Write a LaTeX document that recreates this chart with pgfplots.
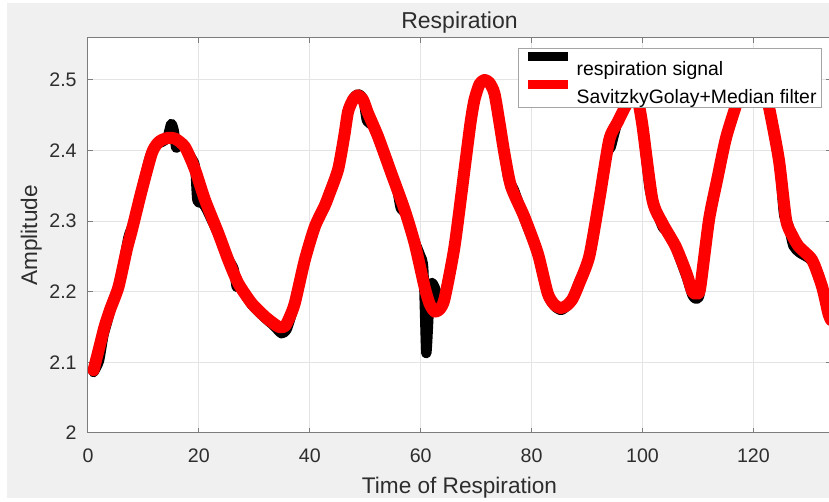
\documentclass[border=0pt]{standalone}
\usepackage{fontspec}
\setmainfont{Liberation Sans}
\usepackage{pgfplots}
\pgfplotsset{compat=1.18}
\definecolor{figbg}{RGB}{240,240,240}
\definecolor{axcol}{RGB}{125,125,125}
\definecolor{txtcol}{RGB}{45,45,45}
\definecolor{gridcol}{RGB}{228,228,228}
\definecolor{legcol}{RGB}{165,165,165}

\begin{document}
\begin{tikzpicture}
\useasboundingbox (0,0) rectangle (414.5pt,251pt);
\fill[white] (0,0) rectangle (414.5pt,251pt);
\fill[figbg] (3.5pt,2pt) rectangle (414.5pt,249.5pt);
\begin{axis}[
  at={(44pt,34.5pt)}, anchor=south west,
  scale only axis, width=371.5pt, height=197.7pt,
  axis background/.style={fill=white},
  xmin=0, xmax=134, ymin=2, ymax=2.56,
  xtick={0,20,...,120},
  ytick={2,2.1,2.2,2.3,2.4,2.5},
  yticklabels={2,2.1,2.2,2.3,2.4,2.5},
  grid=major,
  grid style={gridcol, line width=0.5pt},
  axis line style={axcol, line width=0.5pt},
  tick style={axcol, line width=0.5pt},
  major tick length=2.5pt,
  tick align=inside,
  /pgf/number format/assume math mode=true,
  ticklabel style={font=\fontsize{9.8}{10}\selectfont, text=txtcol, inner sep=0pt},
  xticklabel style={anchor=north, text height=14.5pt},
  yticklabel style={anchor=east, xshift=-5.5pt},
  every axis title shift=0pt,
  title={Respiration},
  title style={at={(axis description cs:0.5,1.0228)}, anchor=base, font=\fontsize{11.5}{12}\selectfont, text=txtcol, inner sep=0pt},
  xlabel={Time of Respiration},
  xlabel style={at={(axis description cs:0.5,-0.153)}, anchor=base, font=\fontsize{11.3}{12}\selectfont, text=txtcol, inner sep=0pt},
  ylabel={Amplitude},
  ylabel style={at={(axis description cs:-0.0686,0.5)}, anchor=base, font=\fontsize{11.3}{12}\selectfont, text=txtcol, inner sep=0pt},
  legend style={at={(axis description cs:0.9879,0.9747)}, anchor=north east,
    draw=legcol, fill=white, line width=0.5pt,
    inner xsep=2.5pt, inner ysep=2pt, row sep=2.5pt, column sep=2pt,
    nodes={inner sep=0pt, text height=8.5pt, text depth=0pt},
    font=\fontsize{9.7}{10}\selectfont, text=black},
  legend cell align=left,
  legend image code/.code={\draw[#1, line width=4.5pt, line cap=butt] (0pt,5pt) -- (20pt,5pt);},
]
\addplot[black, line width=5pt, line join=round, line cap=round, smooth, tension=0.4] coordinates {
(1,2.086)(2,2.102)(2.8,2.138)(3.5,2.158)(4.5,2.188)(5.5,2.207)(6.5,2.245)(7.3,2.278)
(8.2,2.298)(9.2,2.33)(10.4,2.368)(11.2,2.392)(12.3,2.408)(13.3,2.412)(14.3,2.418)
(15.0,2.438)(15.5,2.428)(15.9,2.404)(16.8,2.41)(17.6,2.404)(18.6,2.39)(19.3,2.378)
(19.7,2.33)(20.5,2.326)(21.3,2.318)(23.5,2.281)(25.3,2.247)(26.3,2.232)(26.8,2.207)
(27.6,2.206)(29.5,2.182)(31.9,2.163)(33.5,2.152)(34.9,2.141)(35.8,2.146)(36.5,2.162)
(37.3,2.184)(39.1,2.245)(40.9,2.292)(42.7,2.32)(43.5,2.34)(45.1,2.375)(46.2,2.42)
(46.9,2.455)(47.8,2.474)(48.7,2.48)(49.6,2.474)(50.3,2.442)(51.3,2.436)(52.3,2.418)
(54.7,2.368)(55.8,2.342)(56.4,2.318)(57.3,2.31)(58.9,2.272)(59.9,2.252)(60.5,2.232)
(61.0,2.113)(61.5,2.175)(61.9,2.212)(62.6,2.205)(63.4,2.183)(64.3,2.195)(66.1,2.264)
(67.9,2.373)(69.0,2.44)(69.7,2.472)(70.6,2.494)(71.5,2.5)(72.4,2.496)(73.3,2.481)
(74.2,2.44)(75.1,2.396)(75.8,2.36)(76.8,2.345)(78.7,2.303)(81.1,2.253)(82.9,2.196)
(84.1,2.18)(85.3,2.174)(86.4,2.18)(87.4,2.19)(88.5,2.213)(89.6,2.232)(90.4,2.25)
(92.2,2.33)(93.6,2.395)(94.3,2.405)(95.5,2.44)(97.1,2.465)(98.4,2.48)(99.2,2.47)
(100,2.435)(101.2,2.35)(101.8,2.33)(103.6,2.292)(104.6,2.285)(106,2.262)(107.9,2.222)
(109,2.195)(109.7,2.19)(110.4,2.2)(112,2.302)(113.5,2.36)(115.1,2.417)(116.2,2.445)
(117.4,2.476)(119,2.5)(120.3,2.51)(121.5,2.5)(122.8,2.462)(124.6,2.387)(125.5,2.31)
(126.3,2.295)(127.2,2.265)(128.4,2.255)(130.6,2.243)(132.4,2.205)(133.5,2.17)(134,2.16)
};
\addlegendentry{respiration signal}
\addplot[red, line width=6pt, line join=round, line cap=round, smooth, tension=0.4] coordinates {
(1,2.089)(2,2.12)(3,2.151)(4,2.175)(5.5,2.207)(7,2.26)(8,2.29)(9.7,2.344)(11.5,2.396)
(12.5,2.41)(13.3,2.415)(14.5,2.418)(15.7,2.417)(17.5,2.405)(19.3,2.373)(21.1,2.33)
(23.5,2.283)(25.3,2.245)(27.1,2.212)(29.5,2.184)(31.9,2.165)(33.5,2.155)(34.5,2.15)
(35.5,2.151)(36.3,2.163)(37.3,2.184)(39.1,2.245)(40.9,2.292)(42.7,2.322)(43.5,2.338)
(45.1,2.373)(46.2,2.42)(46.9,2.455)(47.8,2.472)(48.7,2.478)(49.6,2.472)(50.5,2.453)
(52.3,2.42)(54.7,2.368)(57.1,2.316)(58.9,2.269)(60.7,2.207)(61.6,2.183)(62.5,2.172)
(63.4,2.175)(64.3,2.19)(66.1,2.264)(67.9,2.373)(69.0,2.44)(69.7,2.472)(70.6,2.494)
(71.5,2.5)(72.4,2.496)(73.3,2.481)(74.2,2.44)(75.1,2.396)(76.3,2.349)(78.7,2.306)
(81.1,2.255)(82.9,2.198)(84.1,2.182)(85.3,2.177)(86.4,2.181)(87.4,2.19)(88.5,2.21)
(90.4,2.25)(92.2,2.33)(94.0,2.415)(95.5,2.44)(97.1,2.465)(98.4,2.48)(99.2,2.47)
(100,2.435)(101.8,2.33)(103.6,2.297)(106,2.264)(107.9,2.227)(109,2.2)(109.7,2.198)
(110.4,2.205)(112,2.302)(113.5,2.36)(115.1,2.419)(117.4,2.476)(119,2.5)(120.3,2.51)
(121.5,2.5)(122.8,2.462)(124.6,2.387)(125.9,2.302)(127,2.28)(128.2,2.264)(130.6,2.245)
(132.4,2.207)(133.5,2.17)(134,2.16)
};
\addlegendentry{SavitzkyGolay+Median filter}
\end{axis}
\end{tikzpicture}
\end{document}
